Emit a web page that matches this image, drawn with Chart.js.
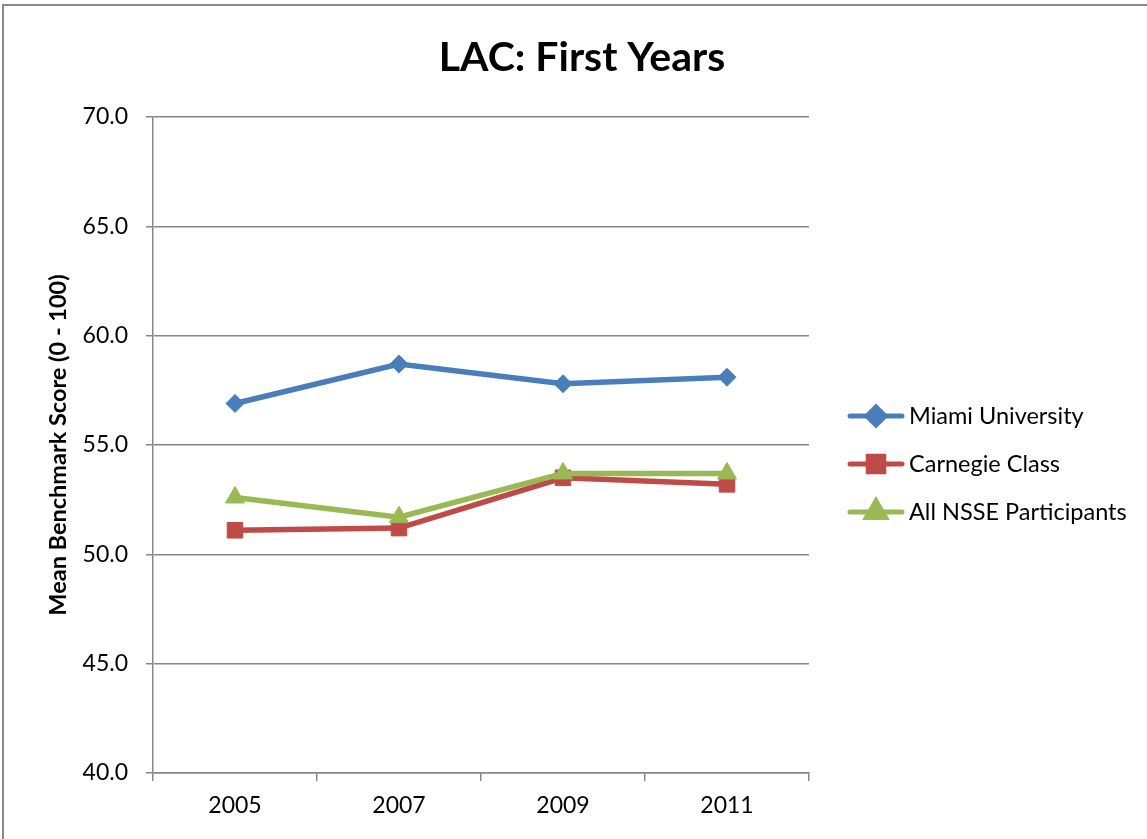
<!DOCTYPE html>
<html>
<head>
<meta charset="utf-8">
<title>LAC: First Years</title>
<script src="https://cdn.jsdelivr.net/npm/chart.js@4/dist/chart.umd.min.js"></script>
<style>
  html, body { margin: 0; padding: 0; background: #fff; overflow: hidden; }
  #frame {
    position: absolute; left: 2px; top: 4px; width: 1400px; height: 1000px;
    border-top: 2px solid #8a8a8a; border-left: 2px solid #8a8a8a;
  }
  #chart { position: absolute; left: 0; top: 0; }
</style>
</head>
<body>
<div id="frame"></div>
<canvas id="chart" width="1147" height="839"></canvas>
<script>
const years = ['2005', '2007', '2009', '2011'];
const miami = [56.9, 58.7, 57.8, 58.1];
const carnegie = [51.1, 51.2, 53.5, 53.2];
const nsse = [52.6, 51.7, 53.7, 53.7];
const seriesNames = ['Miami University', 'Carnegie Class', 'All NSSE Participants'];

const FONT = 'Lato, Carlito, Calibri, "Open Sans", sans-serif';
const GRID = '#878787';

// title and legend (line + marker) drawn straight onto the canvas
const extras = {
  id: 'extras',
  afterDraw(chart) {
    const ctx = chart.ctx;
    ctx.save();
    ctx.fillStyle = '#000';
    ctx.font = 'bold 41px ' + FONT;
    ctx.textAlign = 'center';
    ctx.textBaseline = 'middle';
    ctx.fillText('LAC: First Years', 582, 58);

    const rows = [416, 464, 512];
    ctx.font = '23.5px ' + FONT;
    ctx.textAlign = 'left';
    chart.data.datasets.forEach((ds, i) => {
      const y = rows[i];
      ctx.strokeStyle = ds.borderColor;
      ctx.lineWidth = 5;
      ctx.lineCap = 'round';
      ctx.beginPath();
      ctx.moveTo(850, y);
      ctx.lineTo(902, y);
      ctx.stroke();
      ctx.fillStyle = ds.backgroundColor;
      Chart.helpers.drawPoint(ctx, {
        pointStyle: ds.pointStyle, radius: ds.pointRadius, rotation: 0, borderWidth: 1
      }, 876, y);
      ctx.fillStyle = '#000';
      ctx.fillText(ds.label, 909, y);
    });
    ctx.restore();
  }
};

new Chart(document.getElementById('chart'), {
  type: 'line',
  data: {
    labels: years,
    datasets: [
      {
        label: seriesNames[0], data: miami, order: 3,
        borderColor: '#4a7ebb', backgroundColor: '#4a7ebb',
        pointStyle: 'rectRot', pointRadius: 9, pointHoverRadius: 9
      },
      {
        label: seriesNames[1], data: carnegie, order: 2,
        borderColor: '#be4b48', backgroundColor: '#be4b48',
        pointStyle: 'rect', pointRadius: 11, pointHoverRadius: 11
      },
      {
        label: seriesNames[2], data: nsse, order: 1,
        borderColor: '#98b954', backgroundColor: '#98b954',
        pointStyle: 'triangle', pointRadius: 11, pointHoverRadius: 11
      }
    ]
  },
  options: {
    responsive: false,
    animation: false,
    devicePixelRatio: 1,
    elements: {
      line: { borderWidth: 5.5, tension: 0 },
      point: { borderWidth: 1 }
    },
    layout: { padding: { top: 117, right: 338, left: 0, bottom: 0 } },
    plugins: {
      legend: { display: false },
      title: { display: false },
      tooltip: { enabled: false }
    },
    scales: {
      x: {
        offset: true,
        grid: { offset: true, drawOnChartArea: false, drawTicks: true, tickLength: 8, color: GRID, lineWidth: 1.5 },
        border: { color: GRID, width: 1.5 },
        ticks: { color: '#000', font: { family: FONT, size: 23 }, padding: 11 },
        afterFit(scale) { scale.height = 66; }
      },
      y: {
        min: 40, max: 70,
        ticks: {
          stepSize: 5, color: '#000', font: { family: FONT, size: 23 }, padding: 18,
          callback: v => v.toFixed(1)
        },
        grid: { color: GRID, lineWidth: 1.5, tickLength: 7 },
        border: { color: GRID, width: 1.5 },
        title: {
          display: true, text: 'Mean Benchmark Score (0 - 100)', color: '#000',
          font: { family: FONT, size: 23.5, weight: 'bold' }, padding: { top: 44, bottom: 0 }
        },
        afterFit(scale) { scale.width = 153; }
      }
    }
  },
  plugins: [extras]
});
</script>
</body>
</html>
